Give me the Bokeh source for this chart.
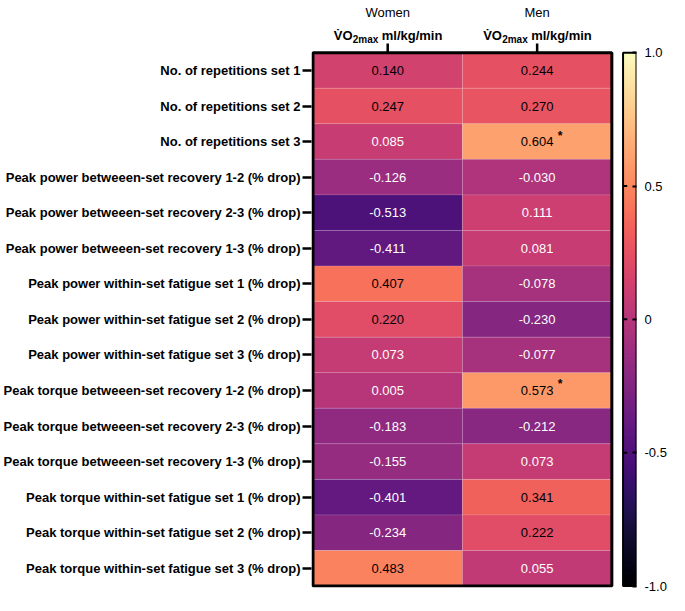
import numpy as np
from bokeh.plotting import figure
from bokeh.models import (ColumnDataSource, LinearColorMapper, FixedTicker,
                          Range1d, LinearAxis)
from bokeh.palettes import Magma256
from bokeh.transform import transform
from bokeh.embed import file_html
from bokeh.resources import INLINE
from bokeh.core.properties import value

FONT = "Liberation Sans"

row_labels = [
    "No. of repetitions set 1",
    "No. of repetitions set 2",
    "No. of repetitions set 3",
    "Peak power betweeen-set recovery 1-2 (% drop)",
    "Peak power betweeen-set recovery 2-3 (% drop)",
    "Peak power betweeen-set recovery 1-3 (% drop)",
    "Peak power within-set fatigue set 1 (% drop)",
    "Peak power within-set fatigue set 2 (% drop)",
    "Peak power within-set fatigue set 3 (% drop)",
    "Peak torque betweeen-set recovery 1-2 (% drop)",
    "Peak torque betweeen-set recovery 2-3 (% drop)",
    "Peak torque betweeen-set recovery 1-3 (% drop)",
    "Peak torque within-set fatigue set 1 (% drop)",
    "Peak torque within-set fatigue set 2 (% drop)",
    "Peak torque within-set fatigue set 3 (% drop)",
]
groups = ["Women", "Men"]
women = [0.140, 0.247, 0.085, -0.126, -0.513, -0.411, 0.407, 0.220, 0.073,
         0.005, -0.183, -0.155, -0.401, -0.234, 0.483]
men = [0.244, 0.270, 0.604, -0.030, 0.111, 0.081, -0.078, -0.230, -0.077,
       0.573, -0.212, 0.073, 0.341, 0.222, 0.055]
women_sig = [False] * 15
men_sig = [False, False, True, False, False, False, False, False, False,
           True, False, False, False, False, False]
cbar_ticks = [-1.0, -0.5, 0.0, 0.5, 1.0]
cbar_tick_labels = ["-1.0", "-0.5", "0", "0.5", "1.0"]

n_rows = len(row_labels)
n_cols = len(groups)

xs, ys, vs, labs, tcs = [], [], [], [], []
sx, sy = [], []
for ci, series in enumerate([women, men]):
    sig = [women_sig, men_sig][ci]
    for ri, v in enumerate(series):
        xs.append(ci + 0.5)
        ys.append(ri + 0.5)
        vs.append(v)
        labs.append(f"{v:.3f}")
        tcs.append("white" if v < 0.12 else "black")
        if sig[ri]:
            sx.append(ci + 0.5)
            sy.append(ri + 0.5)

src = ColumnDataSource(dict(x=xs, y=ys, v=vs, label=labs, tc=tcs))
sig_src = ColumnDataSource(dict(x=sx, y=sy, t=["*"] * len(sx)))

mapper = LinearColorMapper(palette=Magma256, low=-1, high=1)

# value -> row coordinate of the colour bar (1 at top of box, -1 at bottom)
def vy(v):
    return n_rows / 2 - v * n_rows / 2

y_bottom, y_top = n_rows + 0.04, -1.467
cb_left, cb_right = 2.075, 2.165

p = figure(width=669, height=595,
           x_range=Range1d(-0.01, cb_right), y_range=Range1d(y_bottom, y_top),
           x_axis_location=None, output_backend="svg", toolbar_location=None,
           min_border_top=0, min_border_bottom=8, min_border_left=0,
           min_border_right=0)
p.background_fill_color = None
p.border_fill_color = "white"
p.outline_line_color = None
p.grid.visible = False

# cells
p.rect(x="x", y="y", width=1, height=1, source=src,
       fill_color=transform("v", mapper), line_color="white", line_alpha=0.12,
       line_width=1)
p.text(x="x", y="y", text="label", text_color="tc", source=src,
       text_align="center", text_baseline="middle",
       text_font=value(FONT), text_font_size="13px")
p.text(x="x", y="y", text="t", source=sig_src, x_offset=23, y_offset=-6,
       text_align="center", text_baseline="middle", text_color="black",
       text_font=value(FONT), text_font_size="12px", text_font_style="bold")

# box around the heatmap
p.quad(left=0, right=n_cols, top=0, bottom=n_rows, fill_color=None,
       line_color="black", line_width=3)

# top ticks at column centres
col_centres = [i + 0.5 for i in range(n_cols)]
p.segment(x0=col_centres, x1=col_centres, y0=[0] * n_cols, y1=[-0.26] * n_cols,
          line_color="black", line_width=2.5)

# column headers
for ci, g in enumerate(groups):
    cx = ci + 0.5
    p.text(x=[cx], y=[0], text=[g], y_offset=-40, text_align="center",
           text_baseline="alphabetic", text_font=value(FONT),
           text_font_size="13px", text_color="black")
    p.text(x=[cx], y=[0], text=["V\u0307O"], x_offset=-54, y_offset=-17,
           text_align="left", text_baseline="alphabetic", text_font=value(FONT),
           text_font_size="13px", text_font_style="bold", text_color="black")
    p.text(x=[cx], y=[0], text=["2max"], x_offset=-35, y_offset=-13,
           text_align="left", text_baseline="alphabetic", text_font=value(FONT),
           text_font_size="10px", text_font_style="bold", text_color="black")
    p.text(x=[cx], y=[0], text=["ml/kg/min"], x_offset=-6, y_offset=-17,
           text_align="left", text_baseline="alphabetic", text_font=value(FONT),
           text_font_size="13px", text_font_style="bold", text_color="black")

# y axis
yax = p.yaxis[0]
yax.axis_line_color = None
yax.major_tick_line_color = "black"
yax.major_tick_line_width = 2.5
yax.major_tick_out = 9
yax.major_tick_in = 0
yax.minor_tick_line_color = None
yax.ticker = FixedTicker(ticks=[i + 0.5 for i in range(n_rows)])
yax.major_label_overrides = {i + 0.5: row_labels[i] for i in range(n_rows)}
yax.major_label_text_font = FONT
yax.major_label_text_font_size = "13px"
yax.major_label_text_font_style = "bold"
yax.major_label_text_color = "black"
yax.major_label_standoff = 2

# colour bar (drawn from the palette through the same scale)
edges = np.linspace(-1, 1, len(Magma256) + 1)
step = edges[1] - edges[0]
p.quad(left=cb_left, right=cb_right, bottom=[vy(e) for e in edges[:-1]],
       top=[vy(min(e + step * 0.6, 1.0)) for e in edges[1:]],
       fill_color=list(Magma256), line_color=None)
p.quad(left=cb_left, right=cb_right, top=vy(1), bottom=vy(-1), fill_color=None,
       line_color="black", line_width=2)
inner = [t for t in cbar_ticks if -1 < t < 1]
p.segment(x0=[cb_left] * len(inner), x1=[cb_left + 0.028] * len(inner),
          y0=[vy(t) for t in inner], y1=[vy(t) for t in inner],
          line_color="black", line_width=2)

# colour bar axis on the right edge of the bar
scale = 2.0 / n_rows
p.extra_y_ranges = {"cb": Range1d(1 - y_bottom * scale, 1 - y_top * scale)}
cax = LinearAxis(y_range_name="cb")
cax.ticker = FixedTicker(ticks=inner + [-1.0, 1.0])
cax.major_label_overrides = {t: l for t, l in zip(cbar_ticks, cbar_tick_labels)}
cax.axis_line_color = None
cax.major_tick_line_color = "black"
cax.major_tick_line_width = 2
cax.major_tick_in = 4
cax.major_tick_out = 0
cax.minor_tick_line_color = None
cax.major_label_standoff = 8
cax.major_label_text_font = FONT
cax.major_label_text_font_size = "13px"
cax.major_label_text_color = "black"
p.add_layout(cax, "right")

open("out.html", "w").write(file_html(p, INLINE))
